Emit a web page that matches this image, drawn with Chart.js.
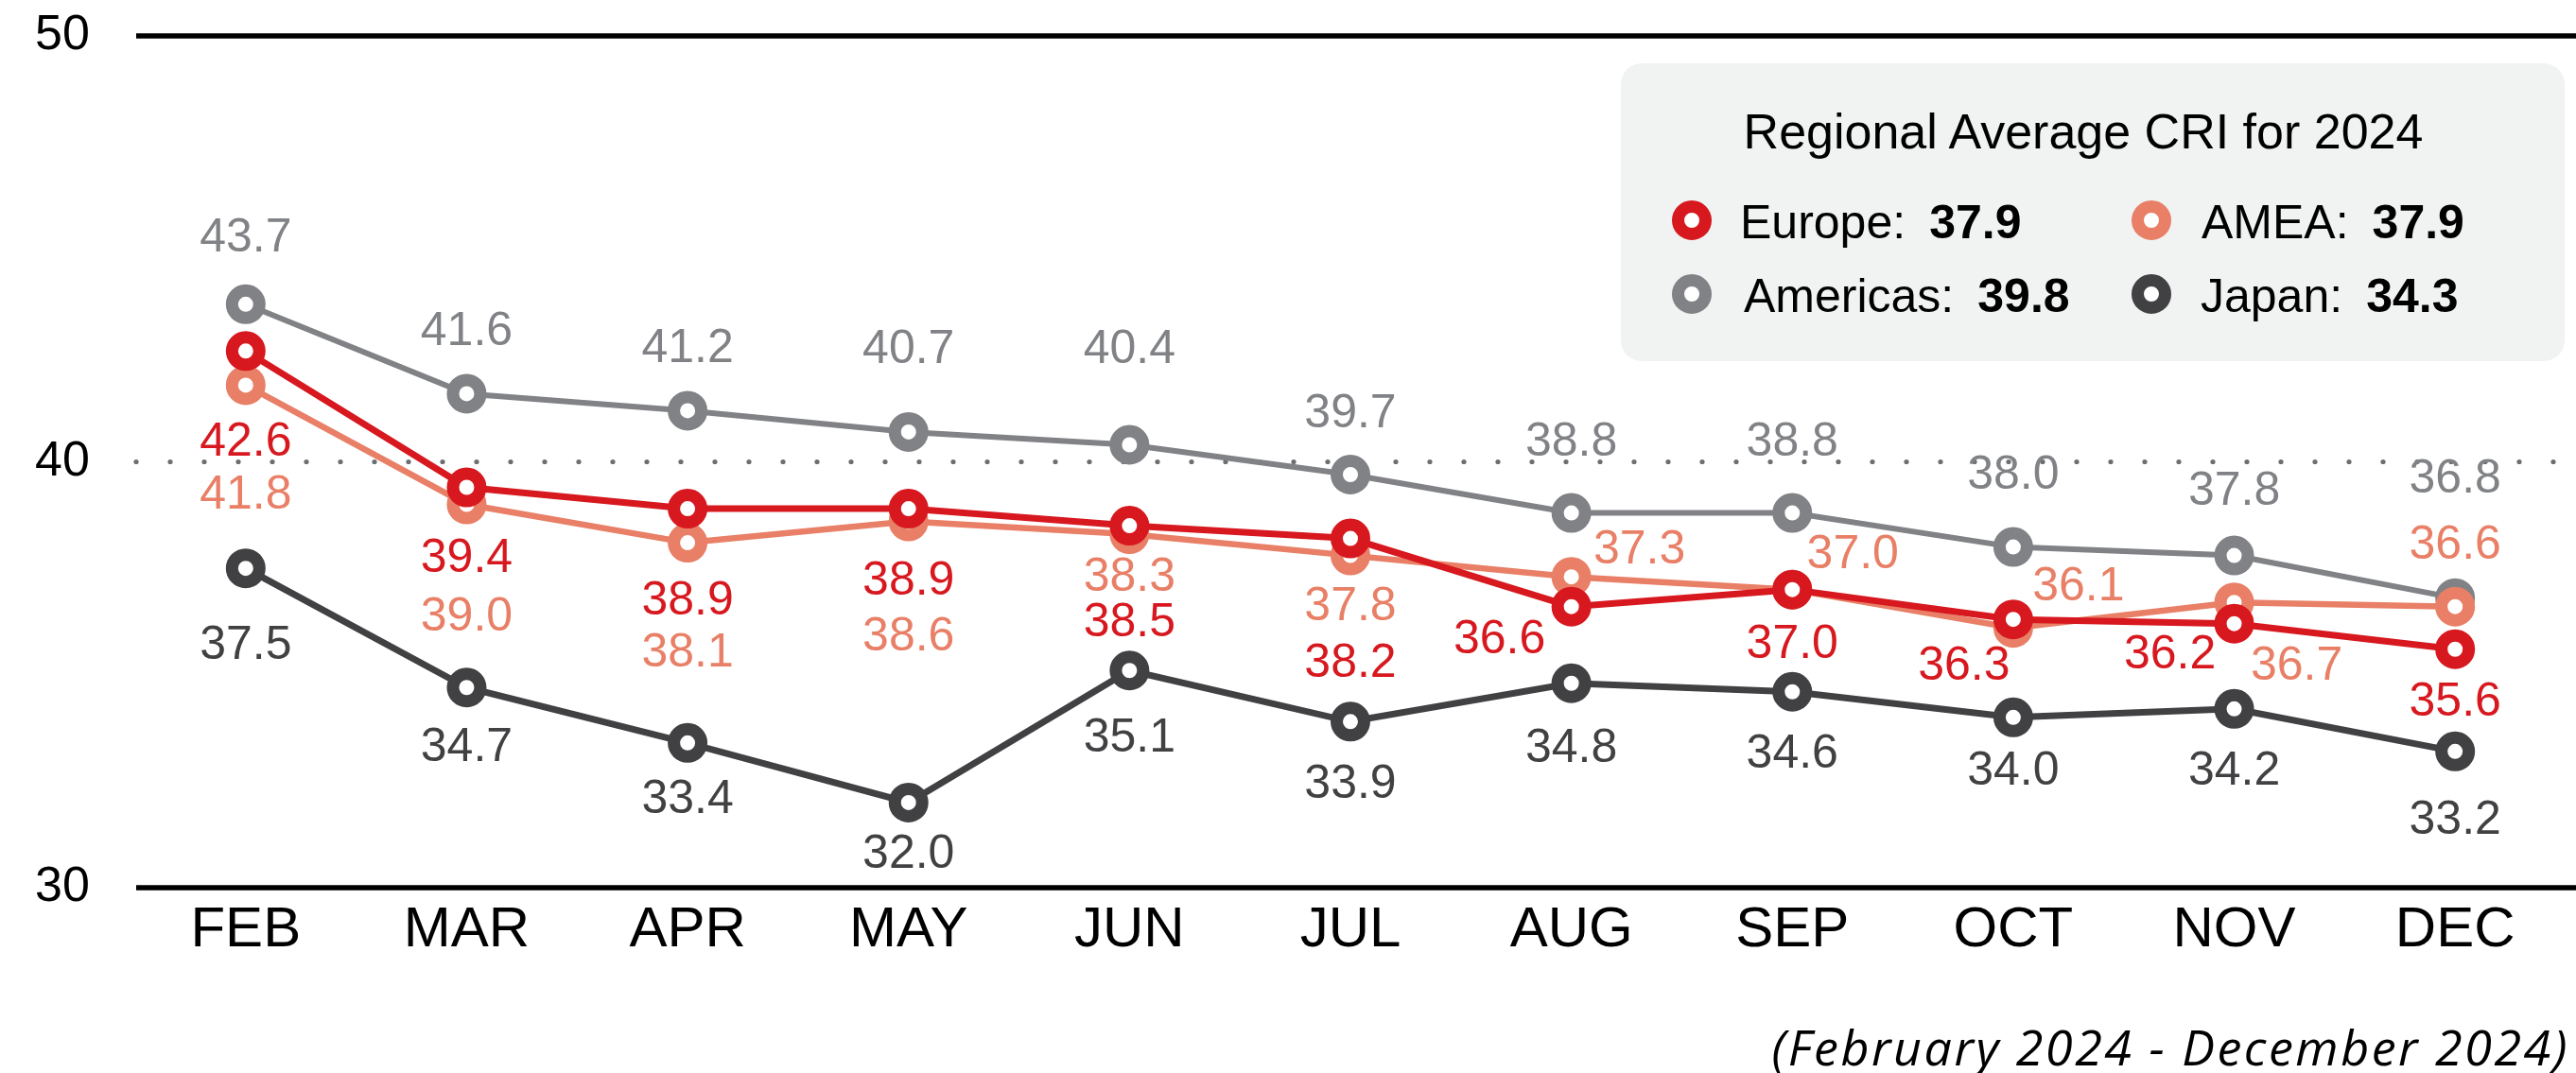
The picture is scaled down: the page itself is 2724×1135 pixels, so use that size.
<!DOCTYPE html>
<html>
<head>
<meta charset="utf-8">
<script src="https://cdn.jsdelivr.net/npm/chart.js@4.4.1/dist/chart.umd.min.js"></script>
<style>
  html, body { margin: 0; padding: 0; background: #fff; }
  #wrap { position: relative; width: 2724px; height: 1135px; font-family: 'Liberation Sans', Arial, sans-serif; color: #000; }
  #chart { position: absolute; left: 0; top: 0; }
  .box { position: absolute; left: 1714px; top: 67px; width: 998px; height: 315px; background: #f1f2f2; border-radius: 22px; }
  .ltitle { position: absolute; left: 1703px; top: 113px; width: 1000px; text-align: center; font-size: 52px; line-height: 52px; white-space: nowrap; }
  .mark { position: absolute; width: 42px; height: 42px; box-sizing: border-box; border: 13px solid; border-radius: 50%; background: #fff; }
  .ltext { position: absolute; font-size: 50px; line-height: 50px; white-space: nowrap; }
  .ltext b { margin-left: 25px; }
  .note { position: absolute; right: 7px; top: 1081px; font-family: 'Open Sans', sans-serif; font-style: italic; font-size: 52px; line-height: 52px; letter-spacing: 2.5px; white-space: nowrap; }
</style>
</head>
<body>
<div id="wrap">
  <canvas id="chart" width="2724" height="1135"></canvas>
  <div class="box"></div>
  <div class="ltitle">Regional Average CRI for 2024</div>
  <div id="legend"></div>
  <div class="note">(February 2024 - December 2024)</div>
</div>
<script>
const months = ['FEB', 'MAR', 'APR', 'MAY', 'JUN', 'JUL', 'AUG', 'SEP', 'OCT', 'NOV', 'DEC'];
const europe   = [42.6, 39.4, 38.9, 38.9, 38.5, 38.2, 36.6, 37.0, 36.3, 36.2, 35.6];
const amea     = [41.8, 39.0, 38.1, 38.6, 38.3, 37.8, 37.3, 37.0, 36.1, 36.7, 36.6];
const americas = [43.7, 41.6, 41.2, 40.7, 40.4, 39.7, 38.8, 38.8, 38.0, 37.8, 36.8];
const japan    = [37.5, 34.7, 33.4, 32.0, 35.1, 33.9, 34.8, 34.6, 34.0, 34.2, 33.2];
const yTicks = [30, 40, 50];
const regionNames = ['Europe', 'AMEA', 'Americas', 'Japan'];
const regionAverages = ['37.9', '37.9', '39.8', '34.3'];

const colors = { Europe: '#d7181f', AMEA: '#e87f66', Americas: '#808285', Japan: '#414042' };

// where each value label sits relative to its point (dx, dy in px)
const shiftEurope   = [[0,97],[0,76],[0,98],[0,77],[0,103],[0,133],[-76,36],[0,59],[-52,50],[-68,34],[0,56]];
const shiftAmea     = [[0,117],[0,120],[0,117],[0,123],[0,46],[0,55],[72,-28],[64,-36],[69,-43],[66,68],[0,-64]];
const shiftAmericas = [[0,-70],[0,-65],[0,-65],[0,-87],[0,-100],[0,-64],[0,-74],[0,-74],[0,-75],[0,-67],[0,-125]];
const shiftJapan    = [[0,82],[0,64],[0,60],[0,55],[0,72],[0,67],[0,69],[0,66],[0,57],[0,66],[0,73]];

const FONT = "'Liberation Sans', Arial, sans-serif";

function series(name, data, shift, order, width) {
  return {
    label: name, data, order,
    borderColor: colors[name], borderWidth: width,
    pointBackgroundColor: '#fff', pointBorderColor: colors[name],
    pointRadius: 14.5, pointBorderWidth: 13, pointHoverRadius: 14.5,
    tension: 0, fill: false, labelShift: shift
  };
}

// horizontal reference lines: solid at 50 and 30, dotted at 40
const refLines = {
  id: 'refLines',
  beforeDatasetsDraw(chart) {
    const ctx = chart.ctx, y = chart.scales.y;
    const x0 = 144, x1 = chart.width;
    ctx.save();
    yTicks.forEach(v => {
      const py = y.getPixelForValue(v);
      if (v === 40) {
        ctx.fillStyle = '#6d6e71';
        for (let x = x0; x <= x1; x += 36) {
          ctx.beginPath(); ctx.arc(x, py, 2.6, 0, Math.PI * 2); ctx.fill();
        }
      } else {
        ctx.strokeStyle = '#000'; ctx.lineWidth = 5.5;
        ctx.beginPath(); ctx.moveTo(x0, py); ctx.lineTo(x1, py); ctx.stroke();
      }
    });
    ctx.restore();
  }
};

const valueLabels = {
  id: 'valueLabels',
  afterDatasetsDraw(chart) {
    const ctx = chart.ctx;
    ctx.save();
    ctx.font = '50px ' + FONT;
    ctx.textAlign = 'center';
    ctx.textBaseline = 'middle';
    chart.data.datasets.forEach((ds, i) => {
      const meta = chart.getDatasetMeta(i);
      ctx.fillStyle = ds.borderColor;
      meta.data.forEach((pt, j) => {
        const [dx, dy] = ds.labelShift[j];
        ctx.fillText(ds.data[j].toFixed(1), pt.x + dx, pt.y + dy);
      });
    });
    ctx.restore();
  }
};

new Chart(document.getElementById('chart'), {
  type: 'line',
  data: {
    labels: months,
    datasets: [
      series('Europe', europe, shiftEurope, 0, 7),
      series('AMEA', amea, shiftAmea, 1, 6.5),
      series('Americas', americas, shiftAmericas, 2, 6),
      series('Japan', japan, shiftJapan, 3, 7)
    ]
  },
  options: {
    responsive: false,
    animation: false,
    events: [],
    layout: { autoPadding: false, padding: { top: 38, right: 11, left: 37, bottom: 0 } },
    plugins: { legend: { display: false }, tooltip: { enabled: false } },
    scales: {
      x: {
        offset: true,
        grid: { display: false, drawTicks: false },
        border: { display: false },
        ticks: { color: '#000', font: { family: FONT, size: 60, lineHeight: 1 }, padding: 15 },
        afterFit(s) { s.height = 196; }
      },
      y: {
        min: 30, max: 50,
        grid: { display: false, drawTicks: false },
        border: { display: false },
        ticks: { stepSize: 10, color: '#000', font: { family: FONT, size: 52 }, padding: 0, crossAlign: 'far' },
        afterFit(s) { s.width = 106; }
      }
    }
  },
  plugins: [refLines, valueLabels]
});

// legend box content
const legendSpots = [[1789, 233, 1840, 210], [2275, 233, 2328, 210], [1789, 311, 1844, 288], [2275, 311, 2327, 288]];
const legendEl = document.getElementById('legend');
regionNames.forEach((name, i) => {
  const [cx, cy, tx, ty] = legendSpots[i];
  const m = document.createElement('span');
  m.className = 'mark';
  m.style.left = (cx - 21) + 'px';
  m.style.top = (cy - 21) + 'px';
  m.style.borderColor = colors[name];
  legendEl.appendChild(m);
  const t = document.createElement('div');
  t.className = 'ltext';
  t.style.left = tx + 'px';
  t.style.top = ty + 'px';
  t.innerHTML = name + ':<b>' + regionAverages[i] + '</b>';
  legendEl.appendChild(t);
});
</script>
</body>
</html>
